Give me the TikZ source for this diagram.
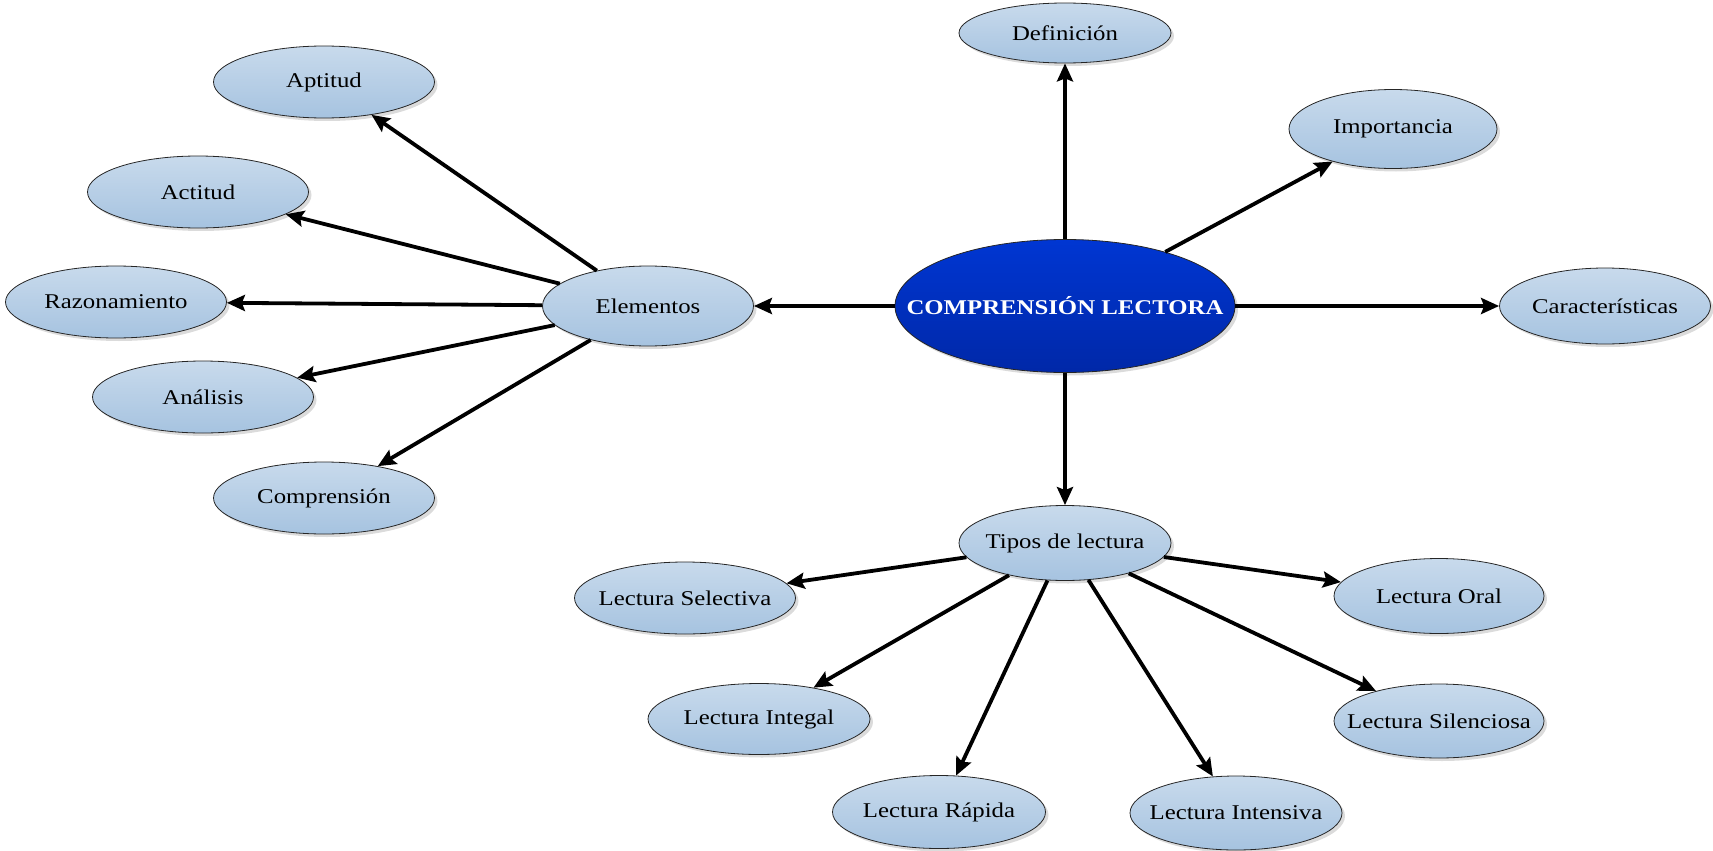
\documentclass[tikz,border=0pt]{standalone}
\usepackage{fontspec}
\setmainfont[FakeStretch=1.18]{Liberation Serif}
\usetikzlibrary{shapes.geometric,arrows.meta,shadows}
\definecolor{btop}{RGB}{200,218,236}
\definecolor{bbot}{RGB}{166,195,224}
\definecolor{ctop}{RGB}{0,54,210}
\definecolor{cbot}{RGB}{0,40,168}
\newcommand{\ztxt}[1]{\makebox[0pt]{#1}}
\begin{document}
\begin{tikzpicture}[x=1pt,y=-1pt,
  bub/.style={ellipse, draw=black!85, line width=0.8pt, top color=btop, bottom color=bbot,
    inner sep=0pt, font=\fontsize{21}{24}\selectfont,
    drop shadow={shadow xshift=3pt,shadow yshift=-3pt,fill=black!40,opacity=0.35}},
  cen/.style={bub, top color=ctop, bottom color=cbot, text=white, font=\fontsize{21}{24}\selectfont\bfseries},
  sz/.style 2 args={minimum width=#1pt, minimum height=#2pt},
  arr/.style={line width=3.8pt, -{Stealth[length=18pt,width=16pt,inset=3pt]}}]
\useasboundingbox (0,0) rectangle (1713,851);
\node[cen, sz={340}{133}] (c) at (1065,306) {\ztxt{COMPRENSIÓN LECTORA}};
\node[bub, sz={212}{60}] (def) at (1065,33) {\ztxt{Definición}};
\node[bub, sz={208}{79}] (imp) at (1393,129) {\ztxt{Importancia}};
\node[bub, sz={211}{76}] (car) at (1605,306) {\ztxt{Características}};
\node[bub, sz={211}{80}] (ele) at (648,306) {\ztxt{Elementos}};
\node[bub, sz={221}{72}] (apt) at (324,82) {\ztxt{Aptitud}};
\node[bub, sz={221}{72}] (act) at (198,192) {\ztxt{Actitud}};
\node[bub, sz={221}{72}] (raz) at (116,302) {\ztxt{Razonamiento}};
\node[bub, sz={221}{72}] (ana) at (203,397) {\ztxt{Análisis}};
\node[bub, sz={221}{72}] (com) at (324,498) {\ztxt{Comprensión}};
\node[bub, sz={212}{75}] (tip) at (1065,543) {\ztxt{Tipos de lectura}};
\node[bub, sz={221}{72}] (sel) at (685,598) {\ztxt{Lectura Selectiva}};
\node[bub, sz={210}{75}] (ora) at (1439,596) {\ztxt{Lectura Oral}};
\node[bub, sz={222}{71}] (int) at (759,719) {\ztxt{Lectura Integal}};
\node[bub, sz={210}{74}] (sil) at (1439,721) {\ztxt{Lectura Silenciosa}};
\node[bub, sz={213}{73}] (rap) at (939,812) {\ztxt{Lectura Rápida}};
\node[bub, sz={212}{74}] (ins) at (1236,813) {\ztxt{Lectura Intensiva}};
\draw[arr] (c) -- (def);
\draw[arr] (c) -- (imp);
\draw[arr] (c) -- (car);
\draw[arr] (c) -- (ele);
\draw[arr] (c) -- (tip);
\draw[arr] (ele) -- (apt);
\draw[arr] (ele) -- (act);
\draw[arr] (ele) -- (raz);
\draw[arr] (ele) -- (ana);
\draw[arr] (ele) -- (com);
\draw[arr] (tip) -- (sel);
\draw[arr] (tip) -- (ora);
\draw[arr] (tip) -- (int);
\draw[arr] (tip) -- (sil);
\draw[arr] (tip) -- (rap);
\draw[arr] (tip) -- (ins);
\end{tikzpicture}
\end{document}
